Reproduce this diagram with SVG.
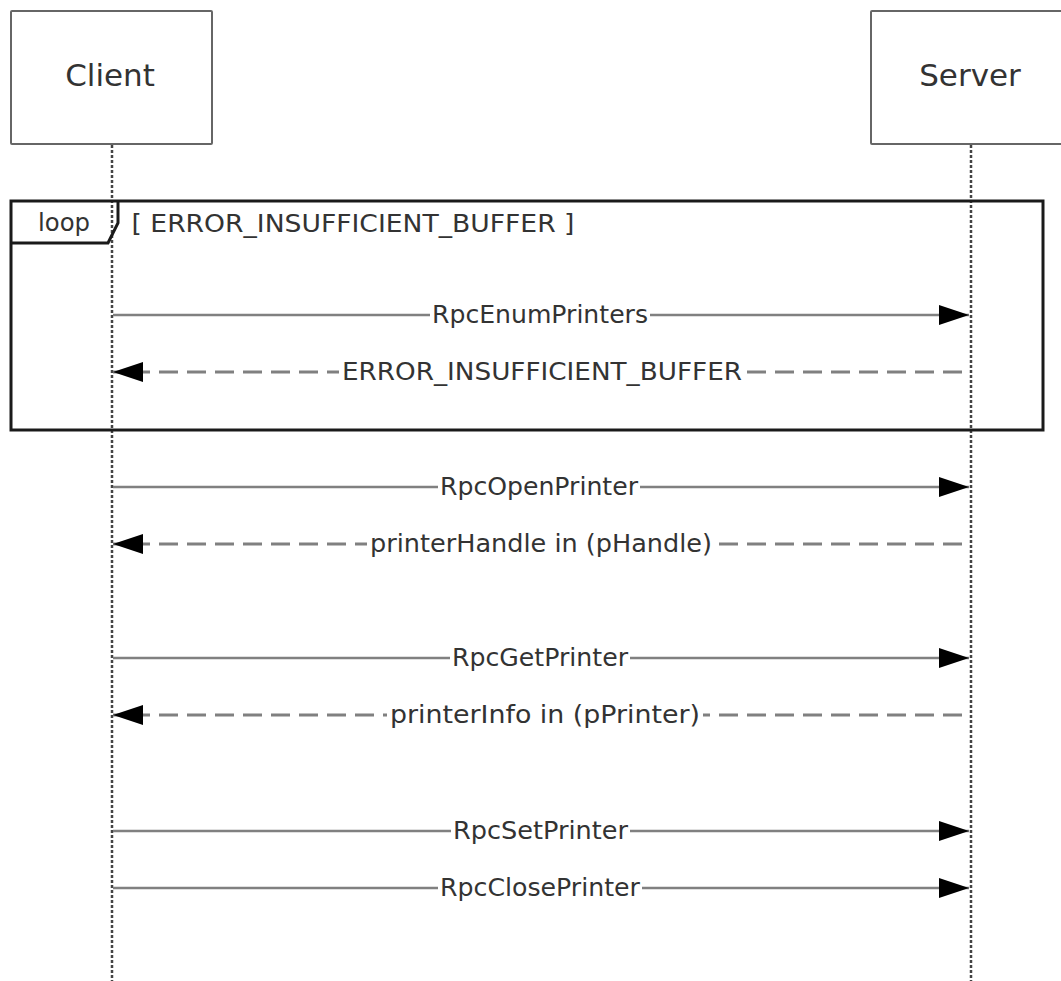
<svg xmlns="http://www.w3.org/2000/svg" width="1061" height="981" viewBox="0 0 1061 981">
<style>
.box{fill:#fff;stroke:#666;stroke-width:2}
.hdr{font-family:"DejaVu Sans",Verdana,sans-serif;font-size:31px;fill:#333;text-anchor:middle}
.lbl{font-family:"DejaVu Sans",Verdana,sans-serif;font-size:25px;fill:#333;text-anchor:middle}
.life{stroke:#444;stroke-width:2.5;stroke-dasharray:3 2;fill:none}
.frame{fill:none;stroke:#1a1a1a;stroke-width:3}
.call{stroke:#808080;stroke-width:2.5;fill:none}
.ret{stroke:#808080;stroke-width:3;stroke-dasharray:19 9;fill:none}
.bg{fill:#fff}
</style>
<defs>
<marker id="ah" viewBox="0 0 30 20" refX="30" refY="10" markerWidth="30" markerHeight="20" markerUnits="userSpaceOnUse" orient="auto">
<path d="M0,0 L30,10 L0,20 Z" fill="#000"/>
</marker>
</defs>
<rect width="1061" height="981" fill="#fff"/>
<g id="client">
<rect class="box" x="11" y="11" width="201" height="133" rx="1"/>
<text class="hdr" x="110" y="86">Client</text>
<line class="life" x1="112" y1="145" x2="112" y2="981"/>
</g>
<g id="server">
<rect class="box" x="871" y="11" width="201" height="133" rx="1"/>
<text class="hdr" x="970" y="86">Server</text>
<line class="life" x1="971" y1="145" x2="971" y2="981"/>
</g>
<g id="loop">
<rect class="frame" x="11" y="201" width="1032" height="229"/>
<path class="frame" d="M11,243 L108,243 L118,223 L118,201" fill="#fff"/>
<text class="lbl" x="64" y="231" textLength="52" lengthAdjust="spacingAndGlyphs">loop</text>
<text class="lbl" x="353" y="232" textLength="443" lengthAdjust="spacingAndGlyphs">[ ERROR_INSUFFICIENT_BUFFER ]</text>
</g>
<g id="connectors">
<line class="call" x1="113" y1="315" x2="969" y2="315" marker-end="url(#ah)"/>
<rect class="bg" x="430" y="303" width="220" height="24"/>
<text class="lbl" x="540" y="323" textLength="216" lengthAdjust="spacingAndGlyphs">RpcEnumPrinters</text>

<line class="ret" x1="962" y1="372" x2="113" y2="372" marker-end="url(#ah)"/>
<rect class="bg" x="339" y="360" width="406" height="24"/>
<text class="lbl" x="542" y="380" textLength="400" lengthAdjust="spacingAndGlyphs">ERROR_INSUFFICIENT_BUFFER</text>

<line class="call" x1="113" y1="487" x2="969" y2="487" marker-end="url(#ah)"/>
<rect class="bg" x="438" y="475" width="202" height="24"/>
<text class="lbl" x="539" y="495" textLength="198" lengthAdjust="spacingAndGlyphs">RpcOpenPrinter</text>

<line class="ret" x1="962" y1="544" x2="113" y2="544" marker-end="url(#ah)"/>
<rect class="bg" x="367" y="532" width="348" height="26"/>
<text class="lbl" x="541" y="552" textLength="342" lengthAdjust="spacingAndGlyphs">printerHandle in (pHandle)</text>

<line class="call" x1="113" y1="658" x2="969" y2="658" marker-end="url(#ah)"/>
<rect class="bg" x="450" y="646" width="180" height="24"/>
<text class="lbl" x="540" y="666" textLength="176" lengthAdjust="spacingAndGlyphs">RpcGetPrinter</text>

<line class="ret" x1="962" y1="715" x2="113" y2="715" marker-end="url(#ah)"/>
<rect class="bg" x="387" y="703" width="316" height="26"/>
<text class="lbl" x="545" y="723" textLength="310" lengthAdjust="spacingAndGlyphs">printerInfo in (pPrinter)</text>

<line class="call" x1="113" y1="831" x2="969" y2="831" marker-end="url(#ah)"/>
<rect class="bg" x="451" y="819" width="179" height="24"/>
<text class="lbl" x="540.5" y="839" textLength="175" lengthAdjust="spacingAndGlyphs">RpcSetPrinter</text>

<line class="call" x1="113" y1="888" x2="969" y2="888" marker-end="url(#ah)"/>
<rect class="bg" x="438" y="876" width="204" height="24"/>
<text class="lbl" x="540" y="896" textLength="200" lengthAdjust="spacingAndGlyphs">RpcClosePrinter</text>
</g>
</svg>
